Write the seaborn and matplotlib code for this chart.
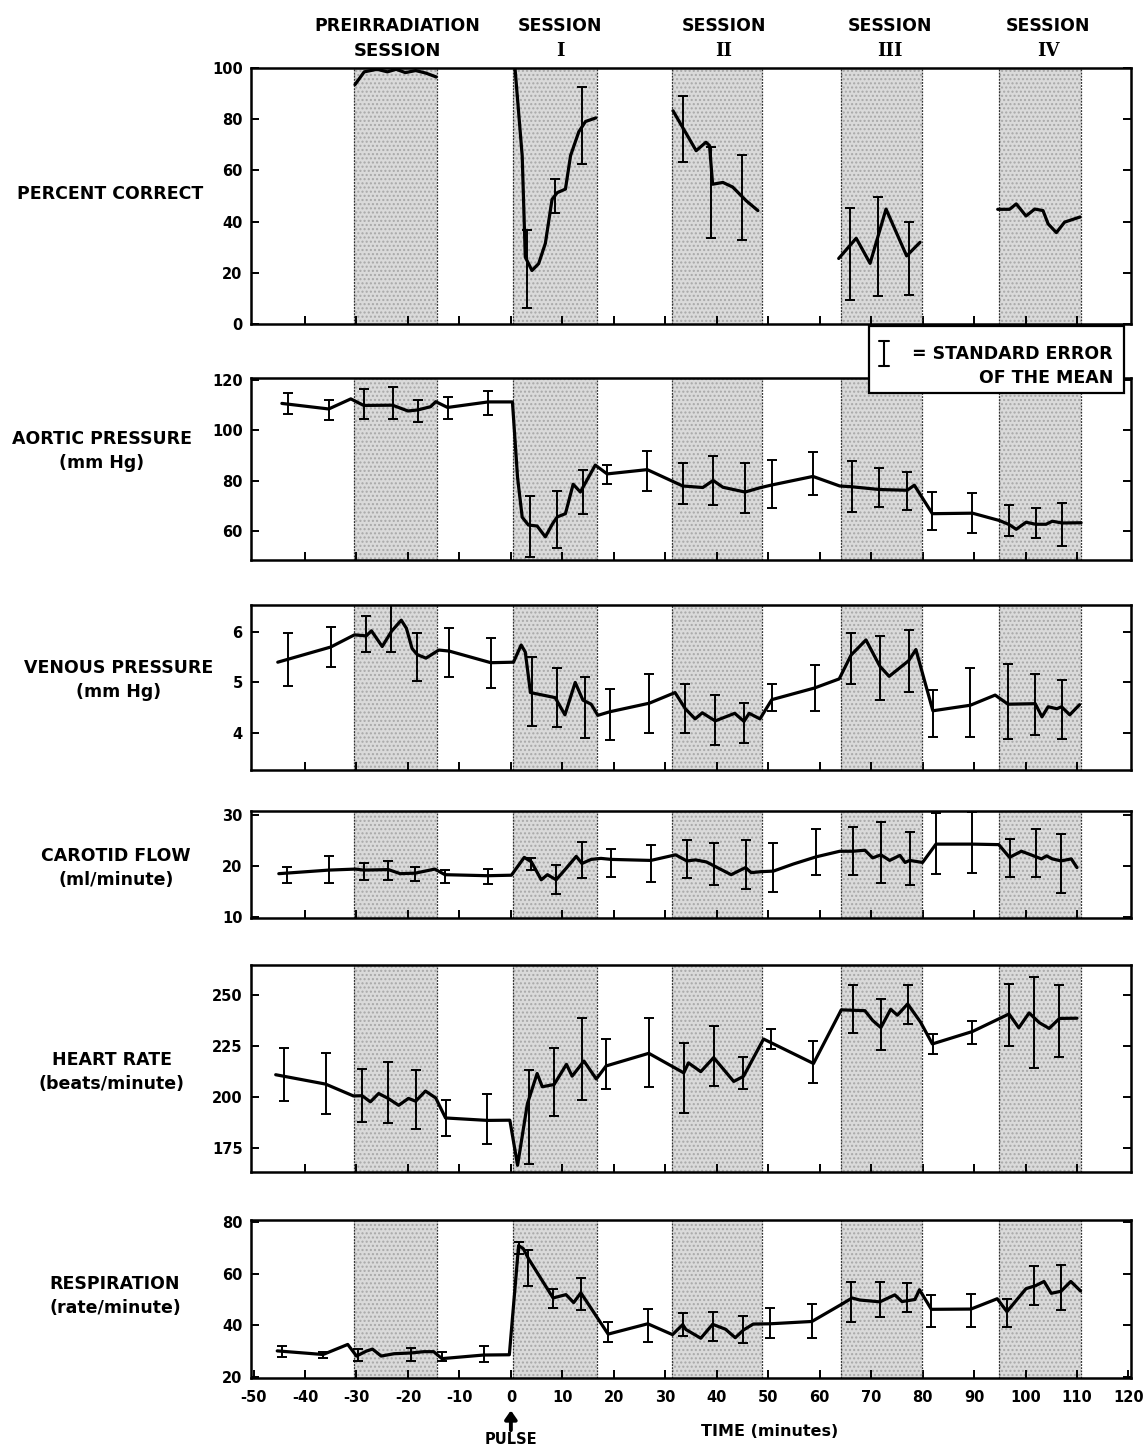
import numpy as np
import pandas as pd
import matplotlib
matplotlib.use("Agg")
import matplotlib.pyplot as plt
import seaborn as sns
from matplotlib.lines import Line2D
from matplotlib.patches import Rectangle

sns.set_style("ticks")
plt.rcParams["font.family"] = ["DejaVu Sans"]
plt.rcParams["text.color"] = "black"
plt.rcParams["xtick.color"] = "black"
plt.rcParams["ytick.color"] = "black"

# ---------------- data ----------------
sessions = [(-30.5, -14.3), (0.4, 16.8), (31.3, 48.7), (64.2, 79.9), (94.8, 110.8)]
session_names = ["PREIRRADIATION\nSESSION", "SESSION\nI", "SESSION\nII", "SESSION\nIII", "SESSION\nIV"]
x_ticks = [-50, -40, -30, -20, -10, 0, 10, 20, 30, 40, 50, 60, 70, 80, 90, 100, 110, 120]

# Percent correct (separate segments per session)
pc_seg = ["pre"] * 9 + ["s1"] * 13 + ["s2"] * 9 + ["s3"] * 6 + ["s4"] * 10
pc_x = [-30.3, -28.5, -26.0, -24.0, -22.3, -20.5, -18.5, -16.5, -14.5,
        0.8, 2.2, 2.8, 4.1, 5.4, 6.7, 8.0, 9.0, 10.6, 11.6, 13.2, 14.5, 16.5,
        31.5, 36.0, 37.9, 38.6, 39.2, 41.2, 43.1, 45.7, 48.0,
        63.7, 67.1, 69.8, 72.9, 76.9, 79.5,
        94.6, 96.9, 98.2, 100.1, 101.8, 103.4, 104.4, 106.0, 107.6, 110.6]
pc_y = [93.5, 98.5, 99.5, 98.5, 99.5, 98.2, 99.0, 98.0, 96.5,
        100.0, 65.6, 26.1, 20.9, 23.6, 31.5, 48.7, 51.3, 52.7, 65.8, 75.1, 79.1, 80.5,
        83.3, 67.7, 71.0, 69.7, 54.6, 55.3, 53.5, 48.2, 44.3,
        25.6, 33.5, 23.7, 44.9, 26.6, 31.9,
        44.8, 44.8, 46.9, 42.2, 44.9, 44.3, 39.1, 35.7, 39.8, 41.8]
pc_se_x = [3.2, 8.6, 13.8, 33.4, 38.9, 45.0, 65.9, 71.4, 77.3]
pc_se_m = [21.6, 50.0, 77.6, 76.0, 51.4, 49.5, 27.3, 30.3, 25.6]
pc_se_e = [15.2, 6.6, 15.0, 12.9, 17.8, 16.5, 18.1, 19.5, 14.2]

# Aortic pressure
ap_x = [-44.5, -35.4, -31.1, -28.6, -23.0, -20.0, -18.1, -15.6, -14.6, -12.3, -4.4, 0.3,
        1.3, 2.2, 3.4, 5.1, 6.7, 8.1, 9.0, 10.6, 12.1, 13.5, 16.4, 18.7, 26.5, 33.4,
        37.3, 39.3, 41.2, 45.5, 48.4, 50.7, 58.7, 63.9, 66.2, 71.6, 77.0, 78.4, 81.9,
        89.7, 94.9, 96.8, 98.2, 100.1, 102.0, 104.0, 105.2, 107.1, 110.8]
ap_y = [110.7, 108.5, 112.5, 109.9, 110.0, 107.7, 108.1, 109.4, 111.4, 109.1, 111.3, 111.3,
        81.2, 65.5, 62.4, 62.0, 57.7, 62.9, 65.6, 66.9, 78.6, 75.5, 86.2, 82.7, 84.4, 77.9,
        77.3, 80.1, 77.4, 75.5, 77.2, 78.3, 81.7, 77.9, 77.6, 76.5, 76.2, 78.2, 66.9,
        67.1, 64.2, 62.6, 60.7, 63.5, 62.7, 62.7, 63.9, 63.2, 63.3]
ap_se_x = [-43.3, -35.4, -28.6, -23.0, -18.1, -12.3, -4.4, 3.7, 9.0, 14.1, 18.7, 26.5, 33.4,
           39.3, 45.5, 50.7, 58.7, 66.2, 71.6, 77.0, 81.9, 89.7, 96.8, 102.0, 107.1]
ap_se_m = [110.6, 108.2, 110.5, 110.9, 107.7, 108.9, 110.8, 61.8, 64.5, 75.5, 82.6, 83.8, 78.9,
           80.1, 77.0, 78.6, 82.9, 77.7, 77.2, 76.0, 68.0, 67.1, 64.1, 63.1, 62.6]
ap_se_e = [4.1, 3.9, 6.0, 6.2, 4.4, 4.5, 4.75, 12.0, 11.4, 8.6, 3.75, 7.9, 8.0,
           9.8, 9.85, 9.6, 8.6, 10.0, 7.65, 7.65, 7.5, 7.9, 6.25, 5.9, 8.5]

# Venous pressure
vp_x = [-45.3, -35.0, -30.4, -28.1, -27.1, -25.0, -23.2, -21.3, -20.3, -19.2, -18.2, -16.5, -14.0,
        -12.0, -3.9, 0.5, 2.0, 2.8, 3.8, 8.6, 10.5, 12.5, 14.0, 15.6, 16.9, 19.2, 26.9, 31.9,
        33.9, 35.8, 37.2, 39.7, 43.5, 45.3, 46.3, 48.4, 50.7, 59.0, 63.8, 66.1, 69.0, 71.7,
        73.5, 77.3, 78.7, 82.0, 89.3, 94.1, 96.6, 101.9, 103.2, 104.4, 106.1, 107.0, 108.6, 110.5]
vp_y = [5.40, 5.70, 5.94, 5.92, 6.02, 5.71, 6.01, 6.23, 6.07, 5.67, 5.55, 5.48, 5.64,
        5.62, 5.39, 5.40, 5.74, 5.60, 4.80, 4.70, 4.36, 5.00, 4.65, 4.57, 4.35, 4.42, 4.59, 4.80,
        4.48, 4.28, 4.40, 4.24, 4.39, 4.23, 4.39, 4.28, 4.66, 4.89, 5.07, 5.54, 5.84, 5.32,
        5.12, 5.43, 5.65, 4.44, 4.55, 4.75, 4.57, 4.58, 4.32, 4.52, 4.48, 4.52, 4.36, 4.56]
vp_se_x = [-43.3, -35.0, -28.1, -23.2, -18.2, -12.0, -3.9, 4.1, 8.9, 14.4, 19.2, 26.9, 33.9,
           39.7, 45.3, 50.7, 59.0, 66.1, 71.7, 77.3, 82.0, 89.3, 96.6, 101.9, 107.0]
vp_se_m = [5.45, 5.70, 5.96, 6.10, 5.50, 5.59, 5.39, 4.82, 4.70, 4.50, 4.37, 4.59, 4.48,
           4.26, 4.20, 4.70, 4.89, 5.47, 5.29, 5.42, 4.39, 4.60, 4.62, 4.56, 4.47]
vp_se_e = [0.53, 0.39, 0.36, 0.50, 0.47, 0.49, 0.49, 0.68, 0.58, 0.60, 0.50, 0.58, 0.48,
           0.50, 0.40, 0.26, 0.46, 0.51, 0.63, 0.61, 0.47, 0.68, 0.74, 0.60, 0.58]

# Carotid flow
cf_x = [-45.1, -35.4, -30.2, -28.6, -23.8, -21.5, -18.6, -14.8, -12.8, -4.5, 0.1, 2.6, 4.0,
        5.9, 7.1, 8.8, 10.7, 12.7, 13.8, 15.6, 17.5, 19.5, 27.2, 32.0, 34.2, 35.9, 38.0,
        42.8, 45.6, 46.7, 48.7, 51.0, 54.9, 59.3, 63.9, 66.5, 68.8, 70.3, 71.9, 73.6, 75.6,
        76.6, 77.5, 80.0, 82.6, 89.7, 94.8, 96.9, 99.2, 100.8, 103.1, 104.1, 105.2, 106.9,
        108.9, 110.0]
cf_y = [18.5, 19.2, 19.4, 19.2, 19.3, 18.5, 18.6, 19.4, 18.3, 18.1, 18.2, 21.7, 20.8,
        17.3, 18.3, 17.3, 19.5, 21.9, 20.5, 21.3, 21.5, 21.3, 21.1, 22.2, 21.0, 21.2, 20.8,
        18.3, 19.7, 18.7, 18.9, 19.0, 20.4, 21.8, 22.9, 22.9, 23.1, 21.6, 22.2, 21.1, 22.1,
        20.7, 21.1, 20.7, 24.3, 24.3, 24.2, 21.7, 22.9, 22.3, 21.4, 22.0, 21.4, 21.0,
        21.4, 19.7]
cf_se_x = [-43.5, -35.4, -28.6, -23.8, -18.6, -12.8, -4.5, 4.0, 8.8, 13.8, 19.5, 27.2, 34.2,
           39.5, 45.6, 51.0, 59.3, 66.5, 71.9, 77.5, 82.6, 89.7, 96.9, 102.0, 106.9]
cf_se_m = [18.3, 19.3, 19.0, 19.05, 18.4, 17.95, 17.95, 20.4, 17.4, 21.2, 20.6, 20.5, 21.4,
           20.4, 20.3, 19.7, 22.75, 22.95, 22.7, 21.55, 24.5, 24.6, 21.6, 22.55, 20.5]
cf_se_e = [1.6, 2.65, 1.65, 1.85, 1.35, 1.25, 1.55, 1.1, 2.85, 3.6, 2.7, 3.7, 3.7,
           4.1, 4.9, 4.8, 4.6, 4.7, 6.0, 5.2, 6.0, 6.0, 3.8, 4.7, 5.8]

# Heart rate
hr_x = [-45.7, -36.0, -30.6, -28.9, -27.3, -25.7, -23.8, -21.8, -19.9, -18.5, -16.6, -14.6,
        -12.7, -4.6, -0.2, 1.3, 3.2, 5.1, 6.1, 8.4, 10.8, 11.9, 14.2, 16.6, 18.5, 26.8, 33.6,
        34.5, 36.9, 39.4, 43.3, 45.2, 49.1, 58.8, 64.2, 68.8, 70.3, 71.9, 73.8, 75.1, 77.1,
        79.6, 81.9, 89.7, 96.8, 98.7, 100.7, 102.7, 104.6, 106.6, 110.0]
hr_y = [210.9, 206.3, 200.5, 200.6, 197.6, 201.7, 199.2, 195.9, 199.3, 197.9, 202.9, 199.5,
        189.7, 188.5, 188.6, 166.5, 196.6, 211.5, 205.0, 206.1, 216.0, 210.2, 217.6, 208.8, 215.2,
        221.4, 211.8, 216.7, 212.4, 219.3, 207.6, 210.1, 228.4, 216.4, 242.7, 242.3, 237.5,
        234.0, 243.0, 240.1, 245.6, 236.7, 226.0, 232.1, 240.7, 233.9, 241.2, 236.4, 233.6,
        238.5, 238.6]
hr_se_x = [-44.0, -36.0, -28.9, -23.8, -18.5, -12.7, -4.6, 3.5, 8.4, 13.8, 18.5, 26.8, 33.6,
           39.4, 45.2, 50.5, 58.8, 66.5, 71.9, 77.1, 82.0, 89.7, 96.8, 101.7, 106.6]
hr_se_m = [211.0, 206.6, 200.9, 202.0, 198.7, 189.7, 189.0, 190.0, 207.4, 218.5, 216.2, 221.9,
           209.3, 220.1, 211.6, 228.5, 217.1, 243.2, 235.3, 245.3, 226.0, 231.6, 240.2, 236.4,
           237.2]
hr_se_e = [12.8, 15.0, 13.0, 15.0, 14.5, 8.9, 12.3, 23.0, 16.5, 20.0, 12.3, 16.8, 17.2,
           14.5, 7.9, 4.9, 10.1, 11.8, 12.5, 9.6, 5.0, 5.4, 15.3, 22.2, 17.5]

# Respiration
rs_x = [-45.4, -36.5, -31.7, -30.0, -28.1, -26.9, -25.2, -22.7, -19.4, -16.9, -15.0, -13.4,
        -5.3, -0.3, 1.5, 2.4, 3.4, 8.2, 10.7, 12.2, 13.6, 18.9, 26.6, 31.4, 33.4, 34.0, 36.9,
        39.2, 41.7, 43.6, 45.2, 47.1, 50.4, 58.5, 64.3, 66.3, 67.8, 71.7, 74.6, 76.0, 78.5,
        79.4, 81.7, 89.4, 94.5, 96.4, 100.1, 102.0, 103.6, 105.0, 106.9, 108.8, 110.7]
rs_y = [30.1, 28.7, 32.6, 28.1, 30.0, 30.8, 28.1, 29.0, 29.3, 29.8, 29.8, 27.1,
        28.5, 28.6, 70.9, 69.7, 65.9, 50.6, 51.9, 48.8, 52.6, 36.6, 40.6, 36.4, 40.3, 38.4, 35.0,
        40.4, 38.5, 35.2, 38.2, 40.5, 40.6, 41.5, 48.2, 50.6, 49.8, 49.1, 51.8, 49.2, 50.0,
        53.8, 46.2, 46.3, 50.3, 45.3, 54.2, 55.4, 57.0, 52.4, 53.2, 57.0, 53.3]
rs_se_x = [-44.5, -36.5, -29.8, -19.4, -13.4, -5.3, 1.5, 3.4, 8.2, 13.6, 18.9, 26.6, 33.4,
           39.2, 45.2, 50.4, 58.5, 66.1, 71.7, 76.9, 81.7, 89.4, 96.4, 101.6, 106.9]
rs_se_m = [29.8, 28.65, 28.45, 28.8, 27.9, 28.9, 70.1, 62.1, 50.4, 52.3, 37.4, 40.1, 40.3,
           39.5, 38.4, 41.0, 41.7, 49.0, 50.1, 50.8, 45.6, 45.75, 44.9, 55.4, 54.6]
rs_se_e = [2.1, 1.2, 2.3, 2.5, 1.9, 3.1, 2.3, 7.0, 3.6, 6.2, 3.9, 6.4, 4.6,
           5.6, 5.2, 5.8, 6.7, 7.7, 6.7, 5.7, 6.3, 6.3, 5.4, 7.7, 8.7]

panels = [
    dict(label="PERCENT CORRECT", lx=110, ly=194, x=pc_x, y=pc_y, seg=pc_seg,
         se=(pc_se_x, pc_se_m, pc_se_e), ylim=(0, 100), yticks=[0, 20, 40, 60, 80, 100],
         top=68, bottom=324),
    dict(label="AORTIC PRESSURE\n(mm Hg)", lx=102, ly=451, x=ap_x, y=ap_y, seg=None,
         se=(ap_se_x, ap_se_m, ap_se_e), ylim=(48.5, 120.8), yticks=[60, 80, 100, 120],
         top=378, bottom=560),
    dict(label="VENOUS PRESSURE\n(mm Hg)", lx=119, ly=680, x=vp_x, y=vp_y, seg=None,
         se=(vp_se_x, vp_se_m, vp_se_e), ylim=(3.27, 6.53), yticks=[4, 5, 6],
         top=605, bottom=770),
    dict(label="CAROTID FLOW\n(ml/minute)", lx=116, ly=868, x=cf_x, y=cf_y, seg=None,
         se=(cf_se_x, cf_se_m, cf_se_e), ylim=(9.8, 30.8), yticks=[10, 20, 30],
         top=811, bottom=918),
    dict(label="HEART RATE\n(beats/minute)", lx=112, ly=1072, x=hr_x, y=hr_y, seg=None,
         se=(hr_se_x, hr_se_m, hr_se_e), ylim=(163.2, 264.7), yticks=[175, 200, 225, 250],
         top=965, bottom=1172),
    dict(label="RESPIRATION\n(rate/minute)", lx=115, ly=1296, x=rs_x, y=rs_y, seg=None,
         se=(rs_se_x, rs_se_m, rs_se_e), ylim=(19.6, 80.8), yticks=[20, 40, 60, 80],
         top=1220, bottom=1378),
]

W, H = 1148, 1448
fig = plt.figure(figsize=(W / 100, H / 100), dpi=100)
fig.patch.set_facecolor("white")

left_px, right_px = 251, 1131
axes = []
for i, p in enumerate(panels):
    ax = fig.add_axes([left_px / W, 1 - p["bottom"] / H, (right_px - left_px) / W,
                       (p["bottom"] - p["top"]) / H])
    axes.append(ax)
    for (a, b) in sessions:
        ax.axvspan(a, b, facecolor="#dadada", edgecolor="#a8a8a8", hatch="....",
                   linewidth=0, zorder=0)
        for xb in (a, b):
            ax.axvline(xb, color="#333333", lw=0.9, ls=(0, (1.5, 1)), zorder=1)
    df = pd.DataFrame({"t": p["x"], "v": p["y"]})
    if p["seg"] is not None:
        df["seg"] = p["seg"]
        sns.lineplot(data=df, x="t", y="v", units="seg", estimator=None, sort=False,
                     color="black", lw=2.3, ax=ax, zorder=3)
    else:
        sns.lineplot(data=df, x="t", y="v", estimator=None, sort=False,
                     color="black", lw=2.3, ax=ax, zorder=3)
    sx, sm, se = p["se"]
    ax.errorbar(sx, sm, yerr=se, fmt="none", ecolor="black", elinewidth=1.4,
                capsize=3.8, capthick=1.4, zorder=4)
    ax.set_xlim(-50.5, 120.5)
    ax.set_ylim(*p["ylim"])
    ax.set_yticks(p["yticks"])
    ax.set_xticks(x_ticks[1:-1])
    ax.set_xlabel("")
    ax.set_ylabel("")
    for s in ax.spines.values():
        s.set_visible(True)
        s.set_linewidth(1.8)
        s.set_color("black")
    ax.tick_params(axis="both", direction="in", length=6, width=1.4, colors="black",
                   left=True, right=True, bottom=True, top=False, labelsize=10.5)
    ax.tick_params(axis="y", pad=6)
    for lab in ax.get_yticklabels():
        lab.set_fontweight("bold")
    if i < len(panels) - 1:
        ax.set_xticklabels([])
    fig.text(p["lx"] / W, 1 - p["ly"] / H, p["label"], ha="center", va="center",
             fontsize=12.5, fontweight="bold", linespacing=1.4, color="black")

# bottom axis labels
axb = axes[-1]
axb.set_xticks(x_ticks)
axb.set_xticklabels([str(v) for v in x_ticks], fontweight="bold", fontsize=10.5)
axb.tick_params(axis="x", pad=9)
axb.annotate("", xy=(0, -0.205), xytext=(0, -0.33),
             xycoords=("data", "axes fraction"), textcoords=("data", "axes fraction"),
             arrowprops=dict(arrowstyle="-|>,head_width=0.35,head_length=0.5",
                             color="black", lw=2.8, shrinkA=0, shrinkB=0))
axb.text(0, -0.39, "PULSE", transform=axb.get_xaxis_transform(), ha="center",
         va="center", fontsize=10.5, fontweight="bold", color="black")
fig.text(770 / W, 1 - 1432 / H, "TIME (minutes)", ha="center", va="center",
         fontsize=11.5, fontweight="bold", color="black")

# session headers
header_x = [397, 560, 724, 890, 1048]
for hx, name in zip(header_x, session_names):
    top_line, bottom_line = name.split("\n")
    fig.text(hx / W, 1 - 26 / H, top_line, ha="center", va="center",
             fontsize=12.5, fontweight="bold", color="black")
    fig.text(hx / W, 1 - 51 / H, bottom_line, ha="center", va="center",
             fontsize=13, fontweight="bold", color="black",
             family="DejaVu Serif" if bottom_line != "SESSION" else None)

# legend box for standard error
box = Rectangle((869 / W, 1 - 393 / H), (1124 - 869) / W, (393 - 326) / H,
                transform=fig.transFigure, facecolor="white", edgecolor="black",
                lw=1.6, zorder=10)
fig.add_artist(box)
ix = 884 / W
y0, y1 = 1 - 366 / H, 1 - 341 / H
cw = 5 / W
for xs, ys in [([ix, ix], [y0, y1]), ([ix - cw, ix + cw], [y0, y0]),
               ([ix - cw, ix + cw], [y1, y1])]:
    fig.add_artist(Line2D(xs, ys, transform=fig.transFigure, color="black", lw=1.5,
                          zorder=11))
fig.text(1113 / W, 1 - 354 / H, "= STANDARD ERROR", ha="right", va="center",
         fontsize=12.5, fontweight="bold", zorder=12, color="black")
fig.text(1113 / W, 1 - 378 / H, "OF THE MEAN", ha="right", va="center",
         fontsize=12.5, fontweight="bold", zorder=12, color="black")

fig.savefig("out.png", dpi=100, facecolor="white")
